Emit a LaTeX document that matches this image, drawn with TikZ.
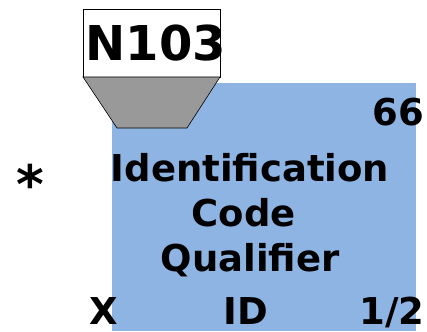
\documentclass[tikz,border=0pt]{standalone}
\usepackage{fontspec}
\setmainfont{DejaVu Sans}[BoldFont={DejaVu Sans Bold}]
\definecolor{boxblue}{RGB}{142,180,227}
\definecolor{trapgray}{RGB}{153,153,153}
\tikzset{
  lbl/.style={inner sep=0pt, font=\fontsize{37}{45}\selectfont\bfseries},
  big/.style={inner sep=0pt, font=\fontsize{48}{56}\selectfont\bfseries},
  starlbl/.style={inner sep=0pt, font=\fontsize{53}{60}\selectfont\bfseries},
}
\begin{document}
\begin{tikzpicture}[x=1pt,y=-1pt]
\useasboundingbox (0,0) rectangle (427,331);
\fill[boxblue] (112,83) rectangle (416,331);
\draw[fill=white, line width=0.6pt] (83,9) rectangle (220,77);
\draw[fill=trapgray, line width=0.6pt] (83,77) -- (220,77) -- (187,128) -- (117,128) -- cycle;
\node[big, anchor=base] (id) at (156,61) {N103};
\node[lbl, anchor=base east] (num) at (424,125) {66};
\node[starlbl, anchor=base] (star) at (30,203) {*};
\node[lbl, anchor=base] (name1) at (250,181) {Identification};
\node[lbl, anchor=base] (name2) at (250,226) {Code\hspace*{0.35em}};
\node[lbl, anchor=base] (name3) at (250,271) {Qualifier};
\node[lbl, anchor=base, text depth=0pt] (req) at (104,324) {X};
\node[lbl, anchor=base, text depth=0pt] (type) at (246,324) {ID};
\node[lbl, anchor=base, text depth=0pt] (len) at (392,324) {1/2};
\end{tikzpicture}
\end{document}
